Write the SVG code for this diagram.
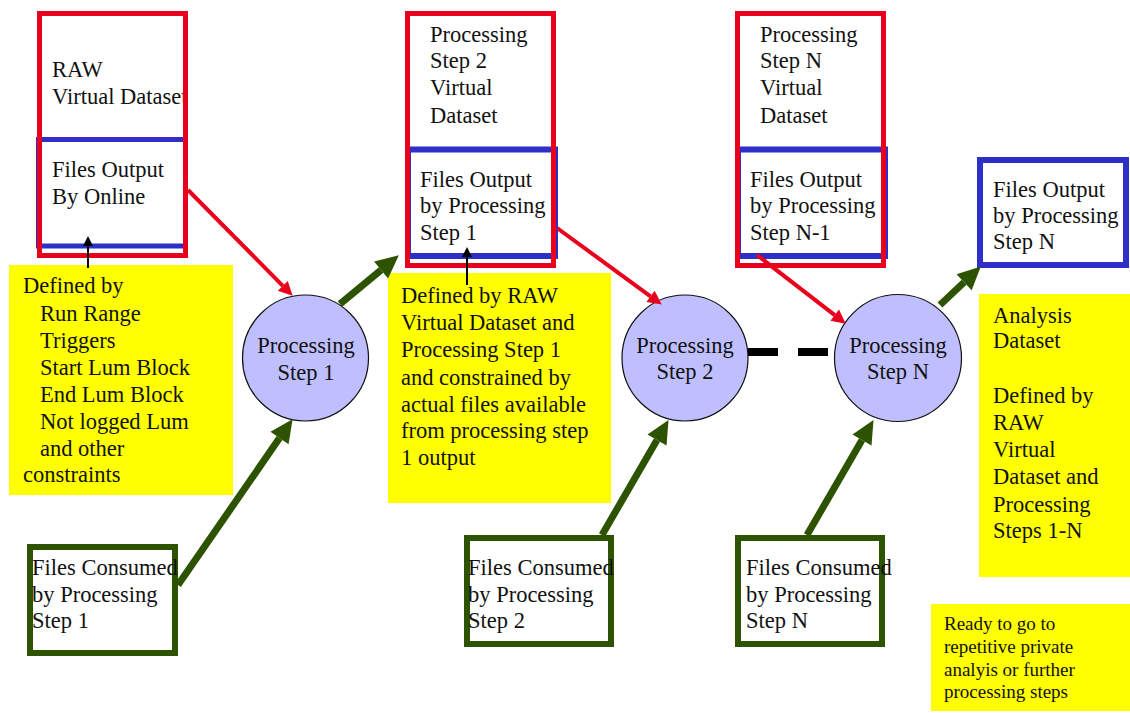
<svg xmlns="http://www.w3.org/2000/svg" width="1130" height="713" viewBox="0 0 1130 713">
<style>
text{font-family:"Liberation Serif","Times New Roman",serif;font-size:22.5px;fill:#111}
.small{font-size:19px}
.red{fill:none;stroke:#E8001C;stroke-width:5}
.blue{fill:none;stroke:#2E2EC8;stroke-width:6}
.green{fill:none;stroke:#2D5200;stroke-width:6}
.yel{fill:#FFFF00}
.circ{fill:#BFBFFF;stroke:#111;stroke-width:1.2}
.ga{stroke:#2D5200;stroke-width:7;fill:none;marker-end:url(#gh)}
.ra{stroke:#E8001C;stroke-width:4;fill:none;marker-end:url(#rh)}
.ba{stroke:#000;stroke-width:2;fill:none;marker-end:url(#bh)}
.mid{text-anchor:middle}
</style>
<defs>
<marker id="gh" markerUnits="userSpaceOnUse" markerWidth="24" markerHeight="22" refX="0" refY="11" orient="auto" overflow="visible"><path d="M0,0 L23,11 L0,22 z" fill="#2D5200"/></marker>
<marker id="rh" markerUnits="userSpaceOnUse" markerWidth="14" markerHeight="14" refX="0" refY="7" orient="auto" overflow="visible"><path d="M0,0 L14,7 L0,14 z" fill="#E8001C"/></marker>
<marker id="bh" markerUnits="userSpaceOnUse" markerWidth="10" markerHeight="10" refX="0" refY="5" orient="auto" overflow="visible"><path d="M0,0 L10,5 L0,10 z" fill="#000"/></marker>
</defs>
<rect width="1130" height="713" fill="#fff"/>

<g id="raw-box">
<text x="52" y="77">RAW</text>
<text x="52" y="104">Virtual Dataset</text>
<text x="52" y="177">Files Output</text>
<text x="52" y="204">By Online</text>
<rect class="blue" x="38.5" y="139.5" width="147" height="106.5" style="stroke-width:5"/>
<rect class="red" x="39.5" y="13.5" width="146" height="242"/>
</g>

<g id="step2-box">
<text x="430" y="42">Processing</text>
<text x="430" y="68">Step 2</text>
<text x="430" y="95">Virtual</text>
<text x="430" y="123">Dataset</text>
<text x="420" y="187">Files Output</text>
<text x="420" y="213">by Processing</text>
<text x="420" y="240">Step 1</text>
<rect class="blue" x="408" y="149.5" width="147" height="106.5"/>
<rect class="red" x="407.5" y="13.5" width="146" height="252"/>
</g>

<g id="stepN-box">
<text x="760" y="42">Processing</text>
<text x="760" y="68">Step N</text>
<text x="760" y="95">Virtual</text>
<text x="760" y="123">Dataset</text>
<text x="750" y="187">Files Output</text>
<text x="750" y="213">by Processing</text>
<text x="750" y="240">Step N-1</text>
<rect class="blue" x="738" y="149.5" width="147" height="106.5"/>
<rect class="red" x="737.5" y="13.5" width="146" height="252"/>
</g>

<g id="output-N">
<rect class="blue" x="980" y="160" width="146" height="105"/>
<text x="993" y="197">Files Output</text>
<text x="993" y="223">by Processing</text>
<text x="993" y="249">Step N</text>
</g>

<g id="note1">
<rect class="yel" x="9" y="265" width="224" height="230"/>
<text x="23" y="293">Defined by</text>
<text x="40" y="321">Run Range</text>
<text x="40" y="348">Triggers</text>
<text x="40" y="375">Start Lum Block</text>
<text x="40" y="402">End Lum Block</text>
<text x="40" y="429">Not logged Lum</text>
<text x="40" y="456">and other</text>
<text x="23" y="482">constraints</text>
</g>

<g id="note2">
<rect class="yel" x="388" y="273" width="223" height="230"/>
<text x="401" y="303">Defined by RAW</text>
<text x="401" y="330">Virtual Dataset and</text>
<text x="401" y="357">Processing Step 1</text>
<text x="401" y="385">and constrained by</text>
<text x="401" y="412">actual files available</text>
<text x="401" y="438">from processing step</text>
<text x="401" y="465">1 output</text>
</g>

<g id="note3">
<rect class="yel" x="979" y="294" width="151" height="283"/>
<text x="993" y="323">Analysis</text>
<text x="993" y="348">Dataset</text>
<text x="993" y="403">Defined by</text>
<text x="993" y="430">RAW</text>
<text x="993" y="457">Virtual</text>
<text x="993" y="484">Dataset and</text>
<text x="993" y="512">Processing</text>
<text x="993" y="538">Steps 1-N</text>
</g>

<g id="note4">
<rect class="yel" x="931" y="604" width="199" height="107"/>
<text class="small" x="944" y="630">Ready to go to</text>
<text class="small" x="944" y="653">repetitive private</text>
<text class="small" x="944" y="676">analyis or further</text>
<text class="small" x="944" y="698">processing steps</text>
</g>

<g id="step1">
<circle class="circ" cx="305.5" cy="358" r="63"/>
<text class="mid" x="306" y="353">Processing</text>
<text class="mid" x="306" y="380">Step 1</text>
</g>

<g id="step2">
<circle class="circ" cx="685" cy="358" r="63"/>
<text class="mid" x="685" y="353">Processing</text>
<text class="mid" x="685" y="379">Step 2</text>
</g>

<g id="stepN">
<circle class="circ" cx="898" cy="358" r="63.5"/>
<text class="mid" x="898" y="353">Processing</text>
<text class="mid" x="898" y="379">Step N</text>
</g>

<g id="consumed1">
<rect class="green" x="30" y="547" width="145" height="106"/>
<text x="32" y="575">Files Consumed</text>
<text x="32" y="602">by Processing</text>
<text x="32" y="628">Step 1</text>
</g>

<g id="consumed2">
<rect class="green" x="467" y="538" width="144" height="106"/>
<text x="468" y="575">Files Consumed</text>
<text x="468" y="602">by Processing</text>
<text x="468" y="628">Step 2</text>
</g>

<g id="consumedN">
<rect class="green" x="738" y="538" width="144" height="106"/>
<text x="746" y="575">Files Consumed</text>
<text x="746" y="602">by Processing</text>
<text x="746" y="628">Step N</text>
</g>

<g id="connectors">
<line class="ba" x1="88" y1="268" x2="88" y2="246"/>
<line class="ba" x1="467" y1="285" x2="467" y2="257"/>
<line class="ra" x1="188" y1="190" x2="282.8" y2="285.8"/>
<line class="ra" x1="557" y1="228" x2="650.5" y2="296.3"/>
<line class="ra" x1="757" y1="255" x2="834.7" y2="315.1"/>
<line class="ga" x1="340" y1="304" x2="381.1" y2="270"/>
<line class="ga" x1="178" y1="585" x2="279.5" y2="438.1"/>
<line class="ga" x1="602" y1="535" x2="657" y2="440"/>
<line class="ga" x1="807" y1="535" x2="862" y2="440"/>
<line class="ga" x1="940" y1="305" x2="964.1" y2="282.2"/>
<line x1="748" y1="352" x2="830" y2="352" stroke="#000" stroke-width="8" stroke-dasharray="30 20"/>
</g>
</svg>
